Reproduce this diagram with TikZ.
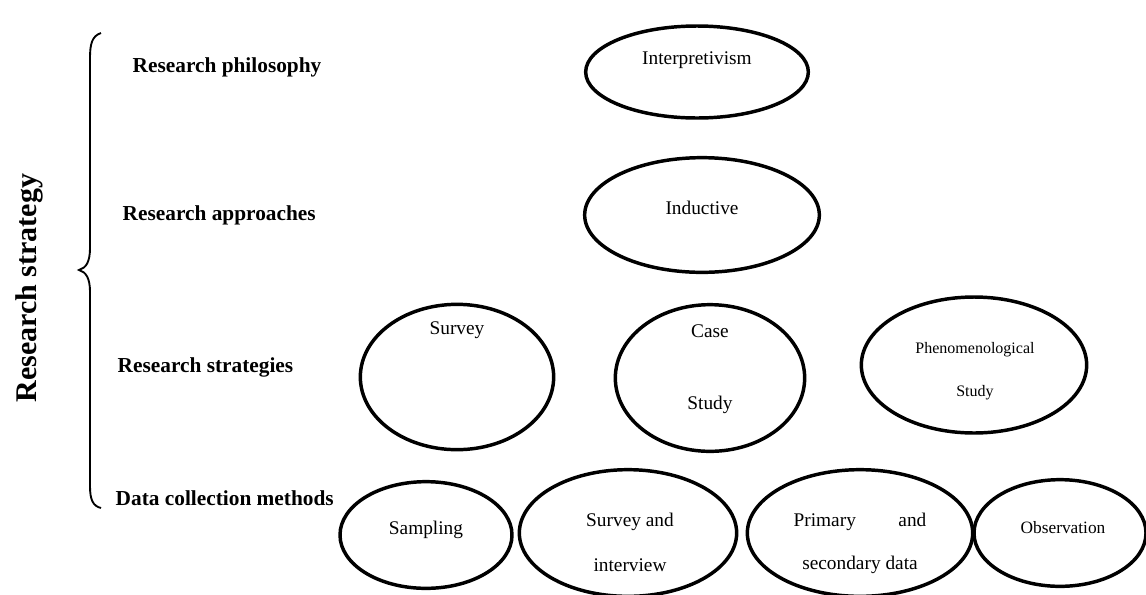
\documentclass[tikz,border=0pt]{standalone}
\usepackage{fontspec}
\setmainfont{Liberation Serif}
\usetikzlibrary{shapes.geometric}
\tikzset{>=stealth}
\tikzset{
  oval/.style={draw,ellipse,line width=2.6pt,inner sep=0pt},
  level/.style={font=\fontsize{16}{19}\selectfont\bfseries},
  word/.style={font=\fontsize{14.5}{17}\selectfont},
  smallword/.style={font=\fontsize{12}{14}\selectfont}
}

\begin{document}
\begin{tikzpicture}[x=0.75pt,y=-0.75pt]
\useasboundingbox (0,0) rectangle (1146,594);
% brace and title
\draw[line width=1.4pt] (101,33) .. controls (92,36) and (90,44) .. (90,58) -- (90,248)
  .. controls (90,262) and (86,268) .. (79,270) .. controls (86,272) and (90,278) .. (90,292)
  -- (90,486) .. controls (90,500) and (93,506) .. (101,508);
\node[rotate=90,font=\fontsize{22.5}{26}\selectfont\bfseries] (strategy) at (29,288) {Research strategy};
% levels
\node[level,anchor=west] (philosophy) at (128,67) {Research philosophy};
\node[level,anchor=west] (approaches) at (118,215) {Research approaches};
\node[level,anchor=west] (strategies) at (113,367) {Research strategies};
\node[level,anchor=west] (methods) at (111,498) {Data collection methods};
% ellipses
\node[oval,minimum width=167pt,minimum height=69pt] (interp) at (697,72) {};
\node[word] (interptxt) at (697,60) {Interpretivism};
\node[oval,minimum width=176pt,minimum height=86pt] (induct) at (702,215) {};
\node[word] (inducttxt) at (702,208) {Inductive};
\node[oval,minimum width=145pt,minimum height=109pt] (survey) at (457,377) {};
\node[word] (surveytxt) at (457,330) {Survey};
\node[oval,minimum width=142pt,minimum height=110pt] (case) at (710,378) {};
\node[word] (casetxt1) at (710,331) {Case};
\node[word] (casetxt2) at (710,405) {Study};
\node[oval,minimum width=169pt,minimum height=102pt] (pheno) at (974,365) {};
\node[smallword] (phenotxt1) at (975,350) {Phenomenological};
\node[smallword] (phenotxt2) at (975,393) {Study};
\node[oval,minimum width=129pt,minimum height=80pt] (sampling) at (426,535) {};
\node[word] (samplingtxt) at (426,530) {Sampling};
\node[oval,minimum width=163pt,minimum height=95pt] (interview) at (628,533) {};
\node[word] (interviewtxt1) at (630,522) {Survey and};
\node[word] (interviewtxt2) at (630,565) {interview};
\node[oval,minimum width=169pt,minimum height=95pt] (data) at (860,533) {};
\node[word] (datatxt1) at (860,522) {Primary\hspace{2.2em}and};
\node[word] (datatxt2) at (860,565) {secondary data};
\node[oval,minimum width=129pt,minimum height=80pt] (observe) at (1060,533) {};
\node[font=\fontsize{13}{15}\selectfont] (observetxt) at (1063,528) {Observation};
\end{tikzpicture}
\end{document}
